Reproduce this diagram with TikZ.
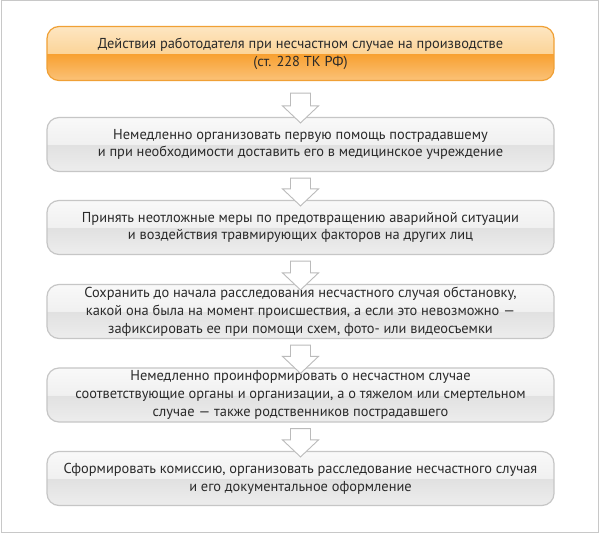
\documentclass[tikz,border=0pt]{standalone}
\usepackage{fontspec}
\setmainfont{PT Sans}
\usetikzlibrary{calc}
\definecolor{gtop}{HTML}{F9F9F9}
\definecolor{gmidA}{HTML}{F0F0F0}
\definecolor{gmidB}{HTML}{E1E1E1}
\definecolor{gbot}{HTML}{EDEDED}
\definecolor{gline}{HTML}{C6C6C6}
\definecolor{otop}{HTML}{FDE6C2}
\definecolor{omidA}{HTML}{FCD498}
\definecolor{omidB}{HTML}{F8A030}
\definecolor{obot}{HTML}{FBC278}
\definecolor{oline}{HTML}{F0A035}
\definecolor{txt}{HTML}{2A2A2A}
\definecolor{framecol}{HTML}{C8C8C8}
\definecolor{arrline}{HTML}{BBBBBB}
\pgfdeclareverticalshading{greyglass}{100bp}{color(0bp)=(gbot); color(25bp)=(gbot); color(49.6bp)=(gmidB); color(50bp)=(gmidA); color(75bp)=(gtop); color(100bp)=(gtop)}
\pgfdeclareverticalshading{orangeglass}{100bp}{color(0bp)=(obot); color(25bp)=(obot); color(49.6bp)=(omidB); color(50bp)=(omidA); color(75bp)=(otop); color(100bp)=(otop)}
\tikzset{
  stepbox/.style={draw=gline, line width=1.2pt, rounded corners=12pt, shading=greyglass,
    minimum width=507pt, minimum height=54pt, inner sep=0pt, align=center,
    text=txt, font=\fontsize{14.4pt}{17.8pt}\selectfont},
  headbox/.style={stepbox, draw=oline, shading=orangeglass},
  blockarrow/.style={draw=arrline, line width=0.9pt, fill=white, line join=miter}
}
\newcommand\blkarrow[3]{%
  \draw[blockarrow] ($(#1.south)+(-10,#3)$) -- ($(#2.north)+(-10,-11)$) -- ($(#2.north)+(-18,-11)$)
    -- ($(#2.north)+(0,6)$) -- ($(#2.north)+(18,-11)$) -- ($(#2.north)+(10,-11)$)
    -- ($(#1.south)+(10,#3)$) -- cycle;}
\begin{document}
\begin{tikzpicture}[x=1pt,y=-1pt]
\useasboundingbox (0,0) rectangle (600,534);
\fill[white] (0,0) rectangle (600,534);
\draw[framecol, line width=1pt] (1,1) rectangle (598.5,532);
\node[headbox] (b1) at (300.5,53.5) {Действия работодателя при несчастном случае на производстве\\(ст. 228 ТК РФ)};
\node[stepbox] (b2) at (300.5,144.5) {Немедленно организовать первую помощь пострадавшему\\и при необходимости доставить его в медицинское учреждение};
\node[stepbox] (b3) at (300.5,227.5) {Принять неотложные меры по предотвращению аварийной ситуации\\и воздействия травмирующих факторов на других лиц};
\node[stepbox] (b4) at (300.5,311.5) {Сохранить до начала расследования несчастного случая обстановку,\\какой она была на момент происшествия, а если это невозможно —\\зафиксировать ее при помощи схем, фото- или видеосъемки};
\node[stepbox] (b5) at (300.5,395) {Немедленно проинформировать о несчастном случае\\соответствующие органы и организации, а о тяжелом или смертельном\\случае — также родственников пострадавшего};
\node[stepbox] (b6) at (300.5,478.5) {Сформировать комиссию, организовать расследование несчастного случая\\и его документальное оформление};
\blkarrow{b1}{b2}{12}
\blkarrow{b2}{b3}{6}
\blkarrow{b3}{b4}{6}
\blkarrow{b4}{b5}{6}
\blkarrow{b5}{b6}{6}
\end{tikzpicture}
\end{document}
